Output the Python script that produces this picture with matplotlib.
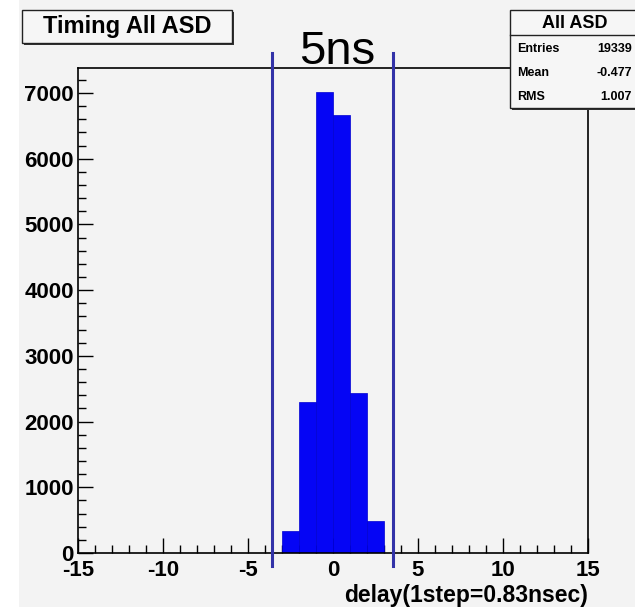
import matplotlib
matplotlib.use("Agg")
import matplotlib.pyplot as plt
from matplotlib.patches import Rectangle
from matplotlib.ticker import MultipleLocator

# histogram data
bin_edges = [-3, -2, -1, 0, 1, 2, 3]
counts = [336, 2305, 7014, 6672, 2441, 488]
window_lines = [-3.6, 3.55]

hist_title = "Timing All ASD"
stats_name = "All ASD"
stats_labels = ["Entries", "Mean", "RMS"]
stats_values = ["19339", "-0.477", "1.007"]
x_label = "delay(1step=0.83nsec)"

W, H = 635, 607
bg = "#f3f3f3"

plt.rcParams["font.family"] = ["Liberation Sans", "DejaVu Sans"]
plt.rcParams["axes.unicode_minus"] = False

fig = plt.figure(figsize=(W / 100, H / 100), dpi=100)
fig.patch.set_facecolor("white")


def fx(px):
    return px / W


def fy(py):
    return 1 - py / H


# ROOT canvas background
fig.patches.append(Rectangle((fx(19), fy(607)), fx(635) - fx(19), fy(0) - fy(607),
                             transform=fig.transFigure, facecolor=bg,
                             edgecolor="none", zorder=-10))

ax = fig.add_axes([fx(78), fy(553), fx(588) - fx(78), fy(68) - fy(553)])
ax.set_facecolor(bg)

lefts = bin_edges[:-1]
widths = [b - a for a, b in zip(bin_edges[:-1], bin_edges[1:])]
ax.bar(lefts, counts, width=widths, align="edge", color="#0505f5",
       edgecolor="#0000d0", linewidth=0.5, zorder=2)

ax.set_xlim(-15, 15)
ax.set_ylim(0, 7380)

ax.xaxis.set_major_locator(MultipleLocator(5))
ax.xaxis.set_minor_locator(MultipleLocator(1))
ax.yaxis.set_major_locator(MultipleLocator(1000))
ax.yaxis.set_minor_locator(MultipleLocator(200))
ax.tick_params(which="both", direction="in", top=False, right=False,
               width=1, color="black")
ax.tick_params(which="major", length=11, labelsize=16)
ax.tick_params(axis="x", which="major", pad=5)
ax.tick_params(axis="y", which="major", pad=3)
ax.tick_params(which="minor", length=5.5)
for lab in ax.get_xticklabels() + ax.get_yticklabels():
    lab.set_fontweight("bold")
for sp in ax.spines.values():
    sp.set_linewidth(1.2)

ax.set_xlabel(x_label, fontsize=16.5, fontweight="bold", loc="right", labelpad=2)

# timing window lines, running past the frame
for xv in window_lines:
    ax.axvline(xv, ymin=-0.027, ymax=1.03, color="#3232a8", linewidth=2.2,
               clip_on=False, zorder=3)

fig.text(fx(337), fy(64), "5ns", fontsize=34, ha="center", va="baseline")

# title box with shadow
fig.patches.append(Rectangle((fx(24), fy(45)), fx(234) - fx(24), fy(12) - fy(45),
                             transform=fig.transFigure, facecolor="#333333",
                             edgecolor="none", zorder=5))
fig.patches.append(Rectangle((fx(22), fy(43)), fx(232) - fx(22), fy(10) - fy(43),
                             transform=fig.transFigure, facecolor="#f6f6f6",
                             edgecolor="#222222", linewidth=1, zorder=6))
fig.text(fx(127), fy(27), hist_title, fontsize=17, fontweight="bold",
         ha="center", va="center", zorder=7)

# stats box
fig.patches.append(Rectangle((fx(512), fy(110)), fx(640) - fx(512), fy(12) - fy(110),
                             transform=fig.transFigure, facecolor="#333333",
                             edgecolor="none", zorder=5))
fig.patches.append(Rectangle((fx(510), fy(108)), fx(640) - fx(510), fy(10) - fy(108),
                             transform=fig.transFigure, facecolor="#f6f6f6",
                             edgecolor="#222222", linewidth=1, zorder=6))
fig.add_artist(plt.Line2D([fx(510), fx(635)], [fy(35), fy(35)],
                          transform=fig.transFigure, color="#222222",
                          linewidth=1, zorder=7))
fig.text(fx(575), fy(23), stats_name, fontsize=13, fontweight="bold",
         ha="center", va="center", zorder=7)
for i, (lab, val) in enumerate(zip(stats_labels, stats_values)):
    yy = fy(49 + 24 * i)
    fig.text(fx(517), yy, lab, fontsize=9, fontweight="bold",
             ha="left", va="center", zorder=7)
    fig.text(fx(632), yy, val, fontsize=9, fontweight="bold",
             ha="right", va="center", zorder=7)

fig.savefig("out.png", dpi=100, facecolor=fig.get_facecolor())
